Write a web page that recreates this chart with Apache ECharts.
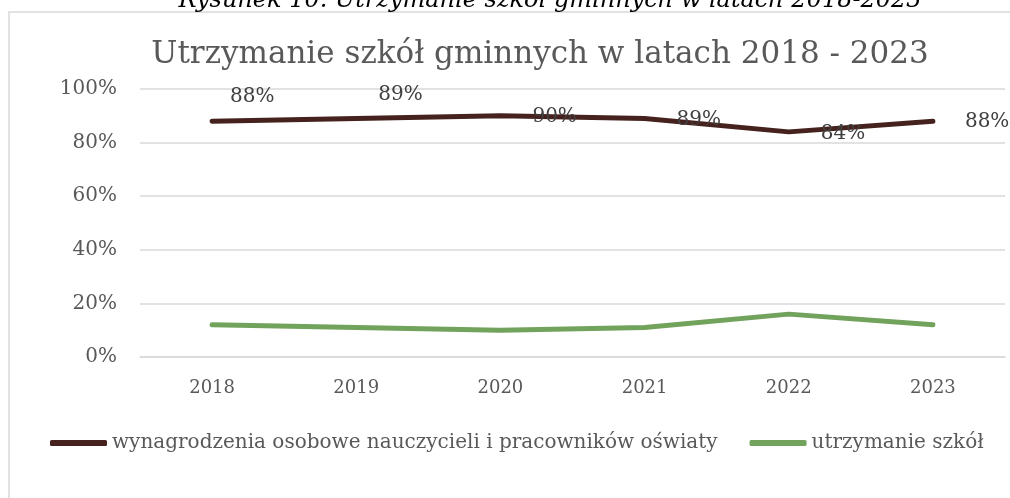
<!DOCTYPE html>
<html>
<head>
<meta charset="utf-8">
<script src="https://cdn.jsdelivr.net/npm/echarts@6/dist/echarts.min.js"></script>
<style>
  html, body { margin: 0; padding: 0; background: #fff; }
  #chart { width: 1010px; height: 498px; }
</style>
</head>
<body>
<div id="chart"></div>
<script>
// dane z wykresu
const years = ['2018', '2019', '2020', '2021', '2022', '2023'];
const wynagrodzenia = [88, 89, 90, 89, 84, 88];
const utrzymanie = [12, 11, 10, 11, 16, 12];
const yTicks = [0, 20, 40, 60, 80, 100];

// przesunięcia etykiet (jak w oryginale z Excela)
const labelShift = [[-14, -24], [-10, -24], [0, 1], [0, 1], [0, 2], [0, 1]];

const FONT = 'DejaVu Serif';
const chart = echarts.init(document.getElementById('chart'));

const option = {
  animation: false,
  color: ['#46221e', '#72a35c'],
  title: [
    {
      text: 'Rysunek 10. Utrzymanie szkół gminnych w latach 2018-2023',
      left: 545, textAlign: 'center', top: -16,
      textStyle: { fontFamily: FONT, fontStyle: 'italic', fontWeight: 'normal', fontSize: 24, color: '#000' }
    },
    {
      text: 'Utrzymanie szkół gminnych w latach 2018 - 2023',
      left: 535, textAlign: 'center', top: 34,
      textStyle: { fontFamily: FONT, fontWeight: 'normal', fontSize: 31, color: '#595959' }
    }
  ],
  graphic: [{
    type: 'rect', silent: true, z: -1,
    shape: { x: 9, y: 12, width: 1100, height: 600 },
    style: { fill: 'none', stroke: '#d9d9d9', lineWidth: 1.5 }
  }],
  legend: {
    left: 50, right: 0, top: 433, padding: 0,
    icon: 'roundRect', itemWidth: 57, itemHeight: 6, itemGap: 32,
    textStyle: { fontFamily: FONT, fontSize: 20, color: '#595959' }
  },
  grid: { left: 140, right: 5, top: 89, bottom: 141 },
  xAxis: {
    type: 'category',
    data: years,
    axisTick: { show: false },
    axisLine: { lineStyle: { color: '#d9d9d9', width: 1.5 } },
    axisLabel: { margin: 22, fontFamily: FONT, fontSize: 18, color: '#595959' }
  },
  yAxis: {
    type: 'value',
    min: yTicks[0], max: yTicks[yTicks.length - 1], interval: yTicks[1] - yTicks[0],
    axisLabel: { margin: 23, fontFamily: FONT, fontSize: 20, color: '#595959', formatter: '{value}%' },
    splitLine: { lineStyle: { color: '#d9d9d9', width: 1.5 } }
  },
  series: [
    {
      name: 'wynagrodzenia osobowe nauczycieli i pracowników oświaty',
      type: 'line',
      symbol: 'circle',
      symbolSize: 0,
      lineStyle: { width: 5, cap: 'round', join: 'round' },
      label: {
        show: true, position: 'right', distance: 32,
        fontFamily: FONT, fontSize: 20, color: '#404040',
        formatter: '{c}%'
      },
      data: wynagrodzenia.map((v, i) => ({ value: v, label: { offset: labelShift[i] } }))
    },
    {
      name: 'utrzymanie szkół',
      type: 'line',
      symbol: 'none',
      lineStyle: { width: 5, cap: 'round', join: 'round' },
      data: utrzymanie
    }
  ]
};
chart.setOption(option);
</script>
</body>
</html>
